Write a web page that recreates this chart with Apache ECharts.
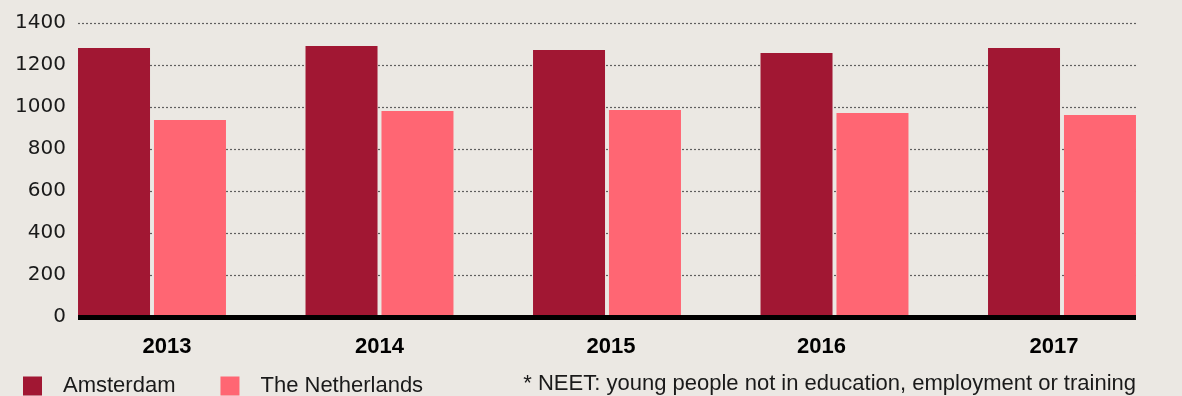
<!DOCTYPE html>
<html>
<head>
<meta charset="utf-8">
<title>NEET young people – Amsterdam vs The Netherlands</title>
<script src="https://cdn.jsdelivr.net/npm/echarts@6/dist/echarts.min.js"></script>
<style>
  html, body { margin: 0; padding: 0; background: #EBE8E3; }
  #chart { width: 1182px; height: 396px; }
</style>
</head>
<body>
<div id="chart"></div>
<script>
// Yearly counts of NEET youth
const years = ['2013', '2014', '2015', '2016', '2017'];
const amsterdam = [1281, 1290, 1271, 1257, 1281];
const netherlands = [938, 981, 986, 971, 962];
const seriesNames = ['Amsterdam', 'The Netherlands'];
const footnote = '* NEET: young people not in education, employment or training';

const FONT = '"Liberation Sans", Arial, sans-serif';
const INK = '#1a1a1a';
const Y_MAX = 1400;
const Y_STEP = 200;

// Horizontal nudge (px) of each year label away from its bar pair's centre
const labelShift = [15, 0, 4, -13, -8];

// Rich styles that offset a label by padding one side of it
const yearRich = {};
labelShift.forEach((d, i) => {
  yearRich['y' + i] = {
    color: '#000',
    fontFamily: FONT,
    fontWeight: 'bold',
    fontSize: 22,
    lineHeight: 22,
    padding: d >= 0 ? [0, 0, 0, 2 * d] : [0, -2 * d, 0, 0]
  };
});

// Grid 0 carries the value scale, gridlines and the baseline;
// grid 1 carries the bars, with each year's pair filling its slot.
const gridTop = 23;
const gridBottom = 79;

const chart = echarts.init(document.getElementById('chart'), null, { renderer: 'canvas' });

chart.setOption({
  backgroundColor: '#EBE8E3',
  animation: false,
  textStyle: { fontFamily: FONT },
  grid: [
    { left: 78, right: 46, top: gridTop, bottom: gridBottom, containLabel: false },
    { left: 38.25, right: 6.25, top: gridTop, bottom: gridBottom, containLabel: false }
  ],
  xAxis: [
    {
      gridIndex: 0,
      type: 'category',
      data: years,
      z: 10,
      axisLine: { show: true, lineStyle: { color: '#000', width: 5, cap: 'butt' } },
      axisTick: { show: false },
      axisLabel: { show: false },
      splitLine: { show: false }
    },
    {
      gridIndex: 1,
      type: 'category',
      data: years,
      boundaryGap: true,
      axisLine: { show: false },
      axisTick: { show: false },
      splitLine: { show: false },
      axisLabel: {
        margin: 19,
        formatter: (value, index) => '{y' + index + '|' + value + '}',
        rich: yearRich
      }
    }
  ],
  yAxis: [
    {
      gridIndex: 0,
      type: 'value',
      min: 0,
      max: Y_MAX,
      interval: Y_STEP,
      axisLine: { show: false },
      axisTick: { show: false },
      axisLabel: {
        margin: 12,
        color: INK,
        fontFamily: '"DejaVu Sans", sans-serif',
        fontSize: 20,
        formatter: (v) => String(v)
      },
      splitLine: {
        show: true,
        lineStyle: { color: '#5f5f5f', width: 1.2, type: [2, 2] }
      }
    },
    {
      gridIndex: 1,
      type: 'value',
      min: 0,
      max: Y_MAX,
      interval: Y_STEP,
      show: false,
      splitLine: { show: false }
    }
  ],
  legend: {
    data: seriesNames,
    left: 23,
    top: 375,
    padding: 0,
    icon: 'rect',
    itemWidth: 19,
    itemHeight: 19,
    itemGap: 45,
    selectedMode: false,
    textStyle: {
      color: INK,
      fontFamily: FONT,
      fontSize: 22,
      padding: [0, 0, 0, 16]
    }
  },
  graphic: [
    {
      type: 'text',
      right: 46,
      top: 373,
      style: {
        text: footnote,
        fill: INK,
        font: '22px ' + FONT,
        textAlign: 'right'
      }
    }
  ],
  series: [
    {
      name: seriesNames[0],
      type: 'bar',
      xAxisIndex: 1,
      yAxisIndex: 1,
      data: amsterdam,
      barWidth: 72,
      barGap: '5.5%',
      itemStyle: { color: '#A11733' },
      silent: true
    },
    {
      name: seriesNames[1],
      type: 'bar',
      xAxisIndex: 1,
      yAxisIndex: 1,
      data: netherlands,
      barWidth: 72,
      barGap: '5.5%',
      itemStyle: { color: '#FF6673' },
      silent: true
    }
  ]
});
</script>
</body>
</html>
